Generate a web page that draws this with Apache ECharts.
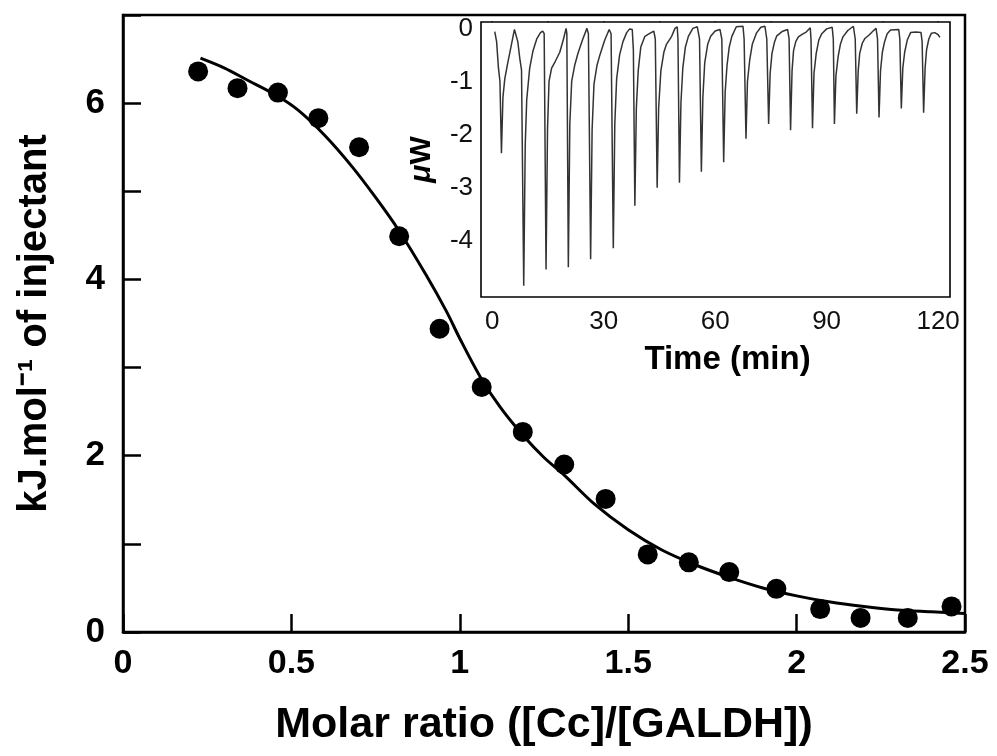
<!DOCTYPE html>
<html>
<head>
<meta charset="utf-8">
<script src="https://cdn.jsdelivr.net/npm/echarts@6/dist/echarts.min.js"></script>
<style>
  html, body { margin: 0; padding: 0; background: #fff; }
  #chart { width: 997px; height: 756px; }
</style>
</head>
<body>
<div id="chart"></div>
<script>
// binding isotherm: molar ratio vs heat per injection
var ratio = [0.223, 0.340, 0.460, 0.580, 0.701, 0.820, 0.940, 1.065, 1.187, 1.310,
  1.433, 1.558, 1.680, 1.800, 1.940, 2.070, 2.190, 2.330, 2.460];
var heat = [6.36, 6.17, 6.12, 5.83, 5.50, 4.49, 3.44, 2.78, 2.27, 1.90,
  1.51, 0.88, 0.79, 0.68, 0.49, 0.26, 0.16, 0.16, 0.29];

// fitted curve
var fitRatio = [0.23, 0.30, 0.37, 0.45, 0.52, 0.60, 0.68, 0.75, 0.82, 0.90, 0.96, 1.00,
  1.06, 1.12, 1.19, 1.25, 1.31, 1.40, 1.50, 1.60, 1.70, 1.80, 1.90, 2.00, 2.10,
  2.20, 2.30, 2.40, 2.50];
var fitHeat = [6.51, 6.40, 6.26, 6.10, 5.92, 5.63, 5.28, 4.93, 4.55, 4.05, 3.64, 3.33,
  2.90, 2.55, 2.22, 1.98, 1.78, 1.45, 1.16, 0.93, 0.76, 0.62, 0.50, 0.41, 0.34,
  0.29, 0.25, 0.23, 0.21];

// raw ITC trace (inset)
var traceTime = [
  0.7, 1.2, 1.7, 2.1, 2.5, 2.9, 3.4, 4.2, 5.2, 6.0, 6.4, 6.9, 7.5, 7.9,
  8.5, 8.9, 9.3, 10.1, 11.0, 12.0, 13.0, 13.6, 14.0,
  14.5, 14.9, 15.3, 16.0, 17.0, 18.2, 19.2, 19.9, 20.1,
  20.5, 20.9, 21.4, 22.2, 23.1, 24.3, 25.5, 25.9,
  26.5, 26.9, 27.4, 28.2, 29.0, 30.3, 31.5, 32.0,
  32.6, 33.0, 33.5, 34.3, 35.2, 36.2, 37.0, 37.7, 38.0,
  38.4, 38.8, 39.3, 40.0, 41.1, 42.3, 43.5, 43.9,
  44.4, 44.8, 45.4, 46.2, 46.9, 48.3, 49.2, 49.8, 50.0,
  50.4, 50.8, 51.3, 52.0, 52.8, 54.0, 55.2, 55.8,
  56.3, 56.7, 57.2, 58.0, 58.8, 60.0, 61.3, 61.8,
  62.3, 62.7, 63.2, 63.8, 64.5, 65.7, 67.5, 67.8,
  68.3, 68.7, 69.3, 70.0, 71.1, 72.3, 73.4, 73.9,
  74.4, 74.8, 75.3, 76.0, 76.6, 78.0, 79.5, 79.9,
  80.3, 80.7, 81.1, 81.7, 82.4, 83.5, 84.5, 85.6, 85.8,
  86.2, 86.6, 87.2, 87.9, 88.7, 90.0, 91.5, 91.8,
  92.1, 92.5, 93.1, 93.7, 94.4, 95.7, 97.2, 97.7,
  98.1, 98.5, 98.9, 99.6, 100.3, 101.5, 102.5, 103.3, 103.7,
  104.1, 104.5, 105.0, 105.6, 106.3, 107.2, 109.4, 109.7,
  110.1, 110.5, 111.0, 111.7, 112.6, 114.0, 115.4, 115.7,
  116.1, 116.5, 116.9, 117.5, 118.2, 119.1, 120.0, 120.5
];
var tracePower = [
  -0.06, -0.25, -0.75, -1.00, -2.35, -1.30, -0.95, -0.65, -0.30, -0.02, 0.00, -0.25, -0.60, -0.78,
  -4.85, -2.20, -1.35, -0.75, -0.42, -0.20, -0.08, -0.05, -0.10,
  -4.54, -1.90, -1.00, -0.75, -0.62, -0.45, -0.20, 0.00, -0.10,
  -4.50, -1.80, -1.00, -0.70, -0.47, -0.22, 0.00, -0.10,
  -4.35, -1.90, -1.05, -0.70, -0.50, -0.22, -0.02, -0.10,
  -4.14, -1.80, -0.95, -0.50, -0.25, -0.08, -0.01, -0.02, -0.40,
  -3.34, -1.50, -0.80, -0.35, -0.15, -0.10, -0.05, -0.20,
  -3.00, -1.50, -0.80, -0.45, -0.30, -0.15, 0.00, 0.03, -0.20,
  -2.91, -1.40, -0.75, -0.35, -0.15, 0.00, 0.03, -0.20,
  -2.70, -1.30, -0.65, -0.30, -0.15, -0.05, -0.02, -0.20,
  -2.52, -1.20, -0.70, -0.35, -0.15, 0.03, 0.04, -0.20,
  -2.08, -1.00, -0.60, -0.30, -0.09, 0.02, 0.04, -0.20,
  -1.80, -0.85, -0.47, -0.25, -0.14, -0.06, -0.02, -0.20,
  -1.92, -0.80, -0.42, -0.25, -0.16, -0.11, -0.07, 0.01, -0.20,
  -1.88, -0.85, -0.47, -0.22, -0.10, -0.01, 0.02, -0.20,
  -1.80, -0.90, -0.53, -0.30, -0.16, -0.04, 0.04, -0.20,
  -1.61, -0.80, -0.47, -0.28, -0.19, -0.12, -0.05, 0.00, -0.20,
  -1.68, -0.80, -0.45, -0.25, -0.10, -0.03, -0.02, -0.20,
  -1.51, -0.75, -0.45, -0.22, -0.08, -0.07, -0.08, -0.25,
  -1.59, -0.75, -0.40, -0.20, -0.09, -0.08, -0.12, -0.17
];

var mainYLabels = [0, 2, 4, 6];
var insetXLabels = [0, 30, 60, 90, 120];
var insetXTicks = [0, 15, 30, 45, 60, 75, 90, 105, 120];
var insetYLabels = [0, -1, -2, -3, -4];

var font = 'Liberation Sans, Arial, sans-serif';

function pairs(xs, ys) {
  return xs.map(function (x, i) { return [x, ys[i]]; });
}

var chart = echarts.init(document.getElementById('chart'));
chart.setOption({
  backgroundColor: '#fff',
  animation: false,
  grid: [
    { left: 123, top: 15, width: 842, height: 617, outerBoundsMode: 'none', containLabel: false,
      show: true, borderColor: '#000', borderWidth: 2.5 },
    { left: 481, top: 22, width: 469, height: 275, outerBoundsMode: 'none', containLabel: false,
      show: true, borderColor: '#000', borderWidth: 1.6, backgroundColor: '#fff', z: 5 }
  ],
  xAxis: [{
    gridIndex: 0,
    type: 'value',
    min: 0,
    max: 2.5,
    interval: 0.5,
    splitLine: { show: false },
    axisLine: { lineStyle: { color: '#000', width: 2.5 } },
    axisTick: { inside: true, length: 18, lineStyle: { color: '#000', width: 2.5 } },
    axisLabel: { color: '#000', fontFamily: font, fontWeight: 'bold', fontSize: 34, margin: 15 },
    name: 'Molar ratio ([Cc]/[GALDH])',
    nameLocation: 'middle',
    nameGap: 72,
    nameTextStyle: { color: '#000', fontFamily: font, fontWeight: 'bold', fontSize: 43 }
  }, {
    gridIndex: 1,
    type: 'value',
    min: -3,
    max: 123.2,
    splitLine: { show: false },
    axisLine: { show: false },
    axisTick: { inside: true, length: 7, customValues: insetXTicks, lineStyle: { color: '#000', width: 1.5 } },
    axisLabel: { color: '#111', fontFamily: font, fontSize: 26, margin: 12, customValues: insetXLabels },
    name: 'Time (min)',
    nameLocation: 'middle',
    nameGap: 46,
    nameTextStyle: { color: '#000', fontFamily: font, fontWeight: 'bold', fontSize: 33, padding: [0, 0, 0, 24] }
  }],
  yAxis: [{
    gridIndex: 0,
    type: 'value',
    min: 0,
    max: 7,
    interval: 1,
    splitLine: { show: false },
    axisLine: { lineStyle: { color: '#000', width: 2.5 } },
    axisTick: { inside: true, length: 18, lineStyle: { color: '#000', width: 2.5 } },
    axisLabel: {
      color: '#000', fontFamily: font, fontWeight: 'bold', fontSize: 35, margin: 18,
      formatter: function (v) { return mainYLabels.indexOf(v) >= 0 ? String(v) : ''; }
    },
    name: 'kJ.mol\u207B\u00B9 of injectant',
    nameLocation: 'middle',
    nameGap: 68,
    nameTextStyle: { color: '#000', fontFamily: font, fontWeight: 'bold', fontSize: 40 }
  }, {
    gridIndex: 1,
    type: 'value',
    min: -5.06,
    max: 0.12,
    splitLine: { show: false },
    axisLine: { show: false },
    axisTick: { inside: true, length: 8, customValues: insetYLabels, lineStyle: { color: '#000', width: 1.5 } },
    axisLabel: { color: '#111', fontFamily: font, fontSize: 26, margin: 8, padding: [10, 0, 0, 0], customValues: insetYLabels },
    name: '{mu|\u03BC}W',
    nameLocation: 'middle',
    nameGap: 44,
    nameTextStyle: {
      color: '#000', fontFamily: font, fontWeight: 'bold', fontSize: 30,
      rich: { mu: { fontFamily: font, fontWeight: 'bold', fontStyle: 'italic', fontSize: 30 } }
    }
  }],
  series: [{
    type: 'line',
    xAxisIndex: 0,
    yAxisIndex: 0,
    data: pairs(fitRatio, fitHeat),
    smooth: 0.3,
    showSymbol: false,
    lineStyle: { color: '#000', width: 3 },
    z: 2
  }, {
    type: 'scatter',
    xAxisIndex: 0,
    yAxisIndex: 0,
    data: pairs(ratio, heat),
    symbol: 'circle',
    symbolSize: 20,
    itemStyle: { color: '#000', opacity: 1 },
    z: 3
  }, {
    type: 'line',
    xAxisIndex: 1,
    yAxisIndex: 1,
    data: pairs(traceTime, tracePower),
    showSymbol: false,
    smooth: false,
    lineStyle: { color: '#333', width: 1.5 },
    z: 6
  }]
});
</script>
</body>
</html>
